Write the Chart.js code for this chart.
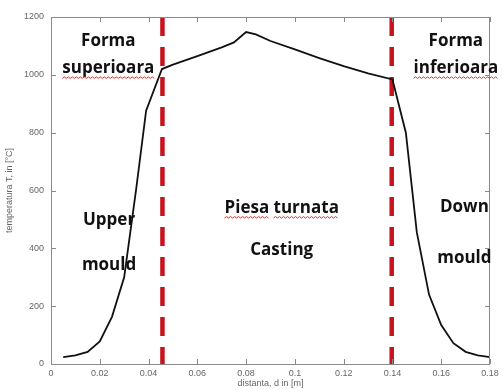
<!DOCTYPE html>
<html>
<head>
<meta charset="utf-8">
<script src="https://cdn.jsdelivr.net/npm/chart.js@4"></script>
<style>
  html, body { margin: 0; padding: 0; background: #fff; }
  #wrap { width: 503px; height: 389px; }
</style>
</head>
<body>
<div id="wrap"><canvas id="chart" width="503" height="389"></canvas></div>
<script>
// temperature profile through mould / casting / mould
const distances = [0.005, 0.01, 0.015, 0.02, 0.025, 0.03, 0.035, 0.039, 0.0455,
  0.05, 0.06, 0.07, 0.075, 0.08, 0.084, 0.09, 0.10, 0.11, 0.12, 0.13, 0.14,
  0.1455, 0.15, 0.155, 0.16, 0.165, 0.17, 0.175, 0.18];
const temperatures = [24, 30, 42, 78, 163, 300, 610, 876, 1020,
  1035, 1065, 1095, 1112, 1148, 1140, 1117, 1088, 1058, 1030, 1005, 984,
  800, 455, 240, 135, 72, 42, 30, 24];

// interfaces between mould halves and the casting
const interfaces = [0.0457, 0.1397];

const xTicks = [0, 0.02, 0.04, 0.06, 0.08, 0.1, 0.12, 0.14, 0.16, 0.18];
const yTicks = [0, 200, 400, 600, 800, 1000, 1200];

// text labels: lines, centre x, baselines (data units), words with wavy underline
const labels = [
  { lines: ['Forma', 'superioara'], x: 0.0235, y: [1098, 1005], wavy: [[], ['superioara']] },
  { lines: ['Forma', 'inferioara'], x: 0.166, y: [1098, 1005], wavy: [[], ['inferioara']] },
  { lines: ['Upper', 'mould'], x: 0.0238, y: [480, 325], wavy: [[], []] },
  { lines: ['Piesa turnata', 'Casting'], x: 0.0946, y: [522, 378], wavy: [['Piesa', 'turnata'], []] },
  { lines: ['Down', 'mould'], x: 0.1695, y: [525, 348], wavy: [[], []] }
];

const curve = distances.map((d, i) => ({ x: d, y: temperatures[i] }));

const frameAndText = {
    id: 'frameAndText',
    afterDatasetsDraw(chart) {
        const ctx = chart.ctx;
        const a = chart.chartArea;
        const xs = chart.scales.x, ys = chart.scales.y;
        ctx.save();
        // box + inward ticks (matlab style)
        ctx.strokeStyle = '#8a8a8a';
        ctx.lineWidth = 1;
        ctx.strokeRect(a.left + 0.5, a.top + 0.5, a.right - a.left - 1, a.bottom - a.top);
        ctx.beginPath();
        xTicks.forEach(t => {
            const px = Math.round(xs.getPixelForValue(t)) + 0.5;
            ctx.moveTo(px, a.bottom); ctx.lineTo(px, a.bottom - 5);
            ctx.moveTo(px, a.top); ctx.lineTo(px, a.top + 5);
        });
        yTicks.forEach(t => {
            const py = Math.round(ys.getPixelForValue(t)) + 0.5;
            ctx.moveTo(a.left, py); ctx.lineTo(a.left + 5, py);
            ctx.moveTo(a.right, py); ctx.lineTo(a.right - 5, py);
        });
        ctx.stroke();

        // annotation text
        ctx.font = 'bold 17px "Open Sans", sans-serif';
        ctx.fillStyle = '#111';
        ctx.textAlign = 'center';
        ctx.textBaseline = 'alphabetic';
        labels.forEach(l => {
            const cx = xs.getPixelForValue(l.x);
            l.lines.forEach((txt, i) => {
                const by = ys.getPixelForValue(l.y[i]);
                ctx.fillText(txt, cx, by);
                const w = ctx.measureText(txt).width;
                let start = cx - w / 2;
                l.wavy[i].forEach(word => {
                    const off = ctx.measureText(txt.slice(0, txt.indexOf(word))).width;
                    const ww = ctx.measureText(word).width;
                    squiggle(ctx, start + off, by + 5, ww);
                });
            });
        });
        ctx.restore();
    }
};

function squiggle(ctx, x0, y0, w) {
    ctx.save();
    ctx.strokeStyle = '#d9322b';
    ctx.lineWidth = 1;
    ctx.beginPath();
    let up = true;
    ctx.moveTo(x0, y0);
    for (let x = x0 + 2; x <= x0 + w; x += 2) {
        ctx.lineTo(x, y0 + (up ? -1.5 : 0));
        up = !up;
    }
    ctx.stroke();
    ctx.restore();
}

const dividerSets = interfaces.map(v => ({
    data: [{ x: v, y: 1200 }, { x: v, y: 0 }],
    borderColor: '#c5141e',
    borderWidth: 4.5,
    borderDash: [19, 11],
    pointRadius: 0,
    fill: false
}));

const tickFont = { size: 9, family: 'Arial, "Liberation Sans", sans-serif' };

new Chart(document.getElementById('chart'), {
    type: 'line',
    data: {
        datasets: [
            {
                data: curve,
                borderColor: '#111',
                borderWidth: 1.8,
                pointRadius: 0,
                tension: 0,
                fill: false
            },
            ...dividerSets
        ]
    },
    options: {
        responsive: false,
        animation: false,
        layout: { padding: { top: 17, right: 13, left: 0, bottom: 0 } },
        plugins: { legend: { display: false }, tooltip: { enabled: false } },
        scales: {
            x: {
                type: 'linear',
                min: 0, max: 0.18,
                afterBuildTicks: s => { s.ticks = xTicks.map(v => ({ value: v })); },
                ticks: {
                    color: '#666',
                    font: tickFont,
                    padding: 4,
                    maxRotation: 0,
                    callback: v => String(Number(v.toFixed(2)))
                },
                grid: { display: false, drawTicks: false },
                border: { display: false },
                title: {
                    display: true,
                    text: 'distanta, d in [m]',
                    color: '#666',
                    font: tickFont,
                    padding: { top: 0, bottom: 0 }
                },
                afterFit: s => { s.height = 25; }
            },
            y: {
                min: 0, max: 1200,
                afterBuildTicks: s => { s.ticks = yTicks.map(v => ({ value: v })); },
                ticks: {
                    color: '#666',
                    font: tickFont,
                    padding: 7,
                    callback: v => String(v)
                },
                grid: { display: false, drawTicks: false },
                border: { display: false },
                title: {
                    display: true,
                    text: 'temperatura T, in [°C]',
                    color: '#666',
                    font: tickFont,
                    padding: { top: 4, bottom: 4 }
                },
                afterFit: s => { s.width = 51; }
            }
        }
    },
    plugins: [frameAndText]
});
</script>
</body>
</html>
